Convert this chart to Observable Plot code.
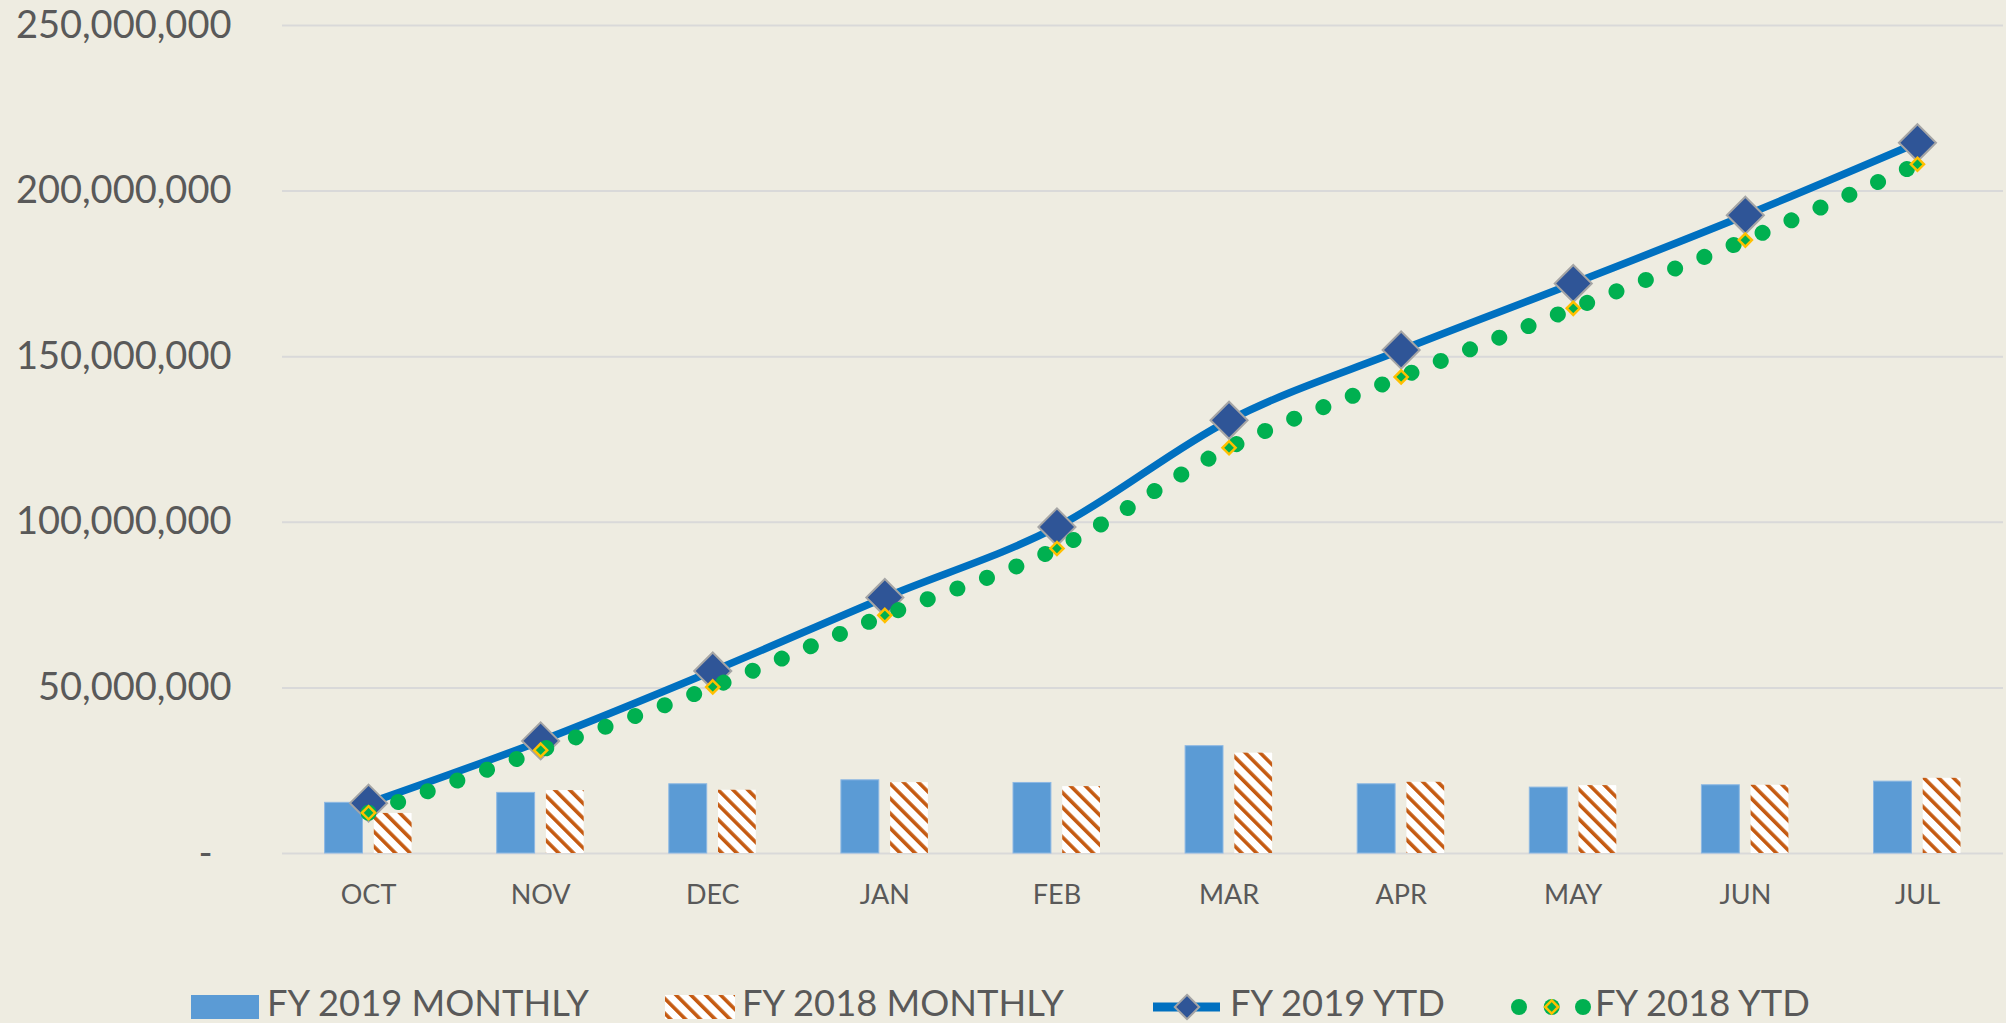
<!DOCTYPE html>
<html>
<head>
<meta charset="utf-8">
<script src="https://cdn.jsdelivr.net/npm/d3@7"></script>
<script src="https://cdn.jsdelivr.net/npm/@observablehq/plot@0.6"></script>
<style>
html, body { margin: 0; padding: 0; background: #EEECE1; overflow: hidden; }
#chart svg, #legend svg { display: block; }
</style>
</head>
<body>
<svg width="0" height="0" style="position:absolute">
  <defs>
    <pattern id="hatch" patternUnits="userSpaceOnUse" width="10.5" height="10.5" patternTransform="rotate(-45)">
      <rect width="10.5" height="10.5" fill="#ffffff"></rect>
      <rect width="3.6" height="10.5" fill="#C55A11"></rect>
    </pattern>
  </defs>
</svg>
<div id="chart"></div>
<div id="legend"></div>
<script>
// ---- data ----
const months = ["OCT", "NOV", "DEC", "JAN", "FEB", "MAR", "APR", "MAY", "JUN", "JUL"];
const fy2019Monthly = [15300000, 18300000, 20900000, 22100000, 21300000, 32400000, 20900000, 19900000, 20600000, 21700000];
const fy2018Monthly = [12100000, 19000000, 19100000, 21400000, 20200000, 30300000, 21500000, 20500000, 20600000, 22700000];
const fy2019Ytd = [15200000, 34000000, 55100000, 77300000, 98600000, 130800000, 152000000, 172100000, 192700000, 214600000];
const fy2018Ytd = [12300000, 31200000, 50300000, 71900000, 92100000, 122500000, 143900000, 164600000, 185200000, 208100000];
const yTicks = [0, 50000000, 100000000, 150000000, 200000000, 250000000];
const legendLabels = ["FY 2019 MONTHLY", "FY 2018 MONTHLY", "FY 2019 YTD", "FY 2018 YTD"];

const rows = months.map((m, i) => ({
  month: m,
  fy19: fy2019Monthly[i],
  fy18: fy2018Monthly[i],
  ytd19: fy2019Ytd[i],
  ytd18: fy2018Ytd[i]
}));

const FONT = "Lato, 'Open Sans', sans-serif";
const TEXT = "#595959";

const chart = Plot.plot({
  width: 2006,
  height: 960,
  marginLeft: 282,
  marginRight: 3,
  marginTop: 25,
  marginBottom: 107,
  style: { background: "transparent", fontFamily: FONT, color: TEXT },
  x: { type: "band", domain: months, padding: 0, round: false, label: null },
  y: { domain: [0, 250000000], label: null },
  marks: [
    Plot.gridY(yTicks, { stroke: "#D9D9D9", strokeOpacity: 1, strokeWidth: 2 }),
    Plot.barY(rows, { x: "month", y: "fy19", fill: "#5B9BD5", stroke: "#8DB8E3", strokeWidth: 1, insetLeft: 42.6, insetRight: 91.6 }),
    Plot.barY(rows, { x: "month", y: "fy18", fill: "url(#hatch)", insetLeft: 91.8, insetRight: 42.5 }),
    Plot.line(rows, { x: "month", y: "ytd19", stroke: "#0070C0", strokeWidth: 7.5, curve: "cardinal" }),
    Plot.dot(rows, { x: "month", y: "ytd19", symbol: "diamond2", r: 16.7, fill: "#2F5597", stroke: "#A5A5A5", strokeWidth: 2 }),
    Plot.line(rows, { x: "month", y: "ytd18", stroke: "#00B050", strokeWidth: 16, strokeLinecap: "round", strokeDasharray: "0.01 31.5", curve: "cardinal" }),
    Plot.dot(rows, { x: "month", y: "ytd18", symbol: "diamond2", r: 5.9, fill: "#00B050", stroke: "#FFC000", strokeWidth: 2.5 }),
    Plot.axisY(yTicks, {
      tickSize: 0, tickPadding: 51, fontSize: 38,
      tickFormat: d => d === 0 ? "-\u2002" : d3.format(",")(d)
    }),
    Plot.axisX({ tickSize: 0, tickPadding: 31, fontSize: 27 })
  ]
});
document.getElementById("chart").appendChild(chart);

// ---- legend (below the plot) ----
const lg = d3.create("svg").attr("width", 2006).attr("height", 63)
  .style("font-family", FONT);
const sx = [191, 665, 1153, 1511];
const tx = [267, 742, 1230, 1595];
const cy = 47;
// item 1: blue box
lg.append("rect").attr("x", sx[0]).attr("y", cy - 12).attr("width", 68).attr("height", 24).attr("fill", "#5B9BD5");
// item 2: hatched box
lg.append("rect").attr("x", sx[1]).attr("y", cy - 12).attr("width", 70).attr("height", 24).attr("fill", "url(#hatch)");
// item 3: line with diamond
lg.append("line").attr("x1", sx[2]).attr("x2", sx[2] + 67).attr("y1", cy).attr("y2", cy)
  .attr("stroke", "#0070C0").attr("stroke-width", 9);
lg.append("path").attr("d", d3.symbol(d3.symbolDiamond2, Math.PI * 11 * 11)())
  .attr("transform", `translate(${sx[2] + 34},${cy})`)
  .attr("fill", "#2F5597").attr("stroke", "#A5A5A5").attr("stroke-width", 2);
// item 4: dots with small diamond
[8, 40.7, 72].forEach(dx => {
  lg.append("circle").attr("cx", sx[3] + dx).attr("cy", cy).attr("r", 8).attr("fill", "#00B050");
});
lg.append("path").attr("d", d3.symbol(d3.symbolDiamond2, Math.PI * 5.9 * 5.9)())
  .attr("transform", `translate(${sx[3] + 40.7},${cy})`)
  .attr("fill", "#00B050").attr("stroke", "#FFC000").attr("stroke-width", 2.5);
legendLabels.forEach((t, i) => {
  lg.append("text").attr("x", tx[i]).attr("y", 56).attr("font-size", 36.3)
    .attr("fill", TEXT).text(t);
});
document.getElementById("legend").appendChild(lg.node());
</script>
</body>
</html>
